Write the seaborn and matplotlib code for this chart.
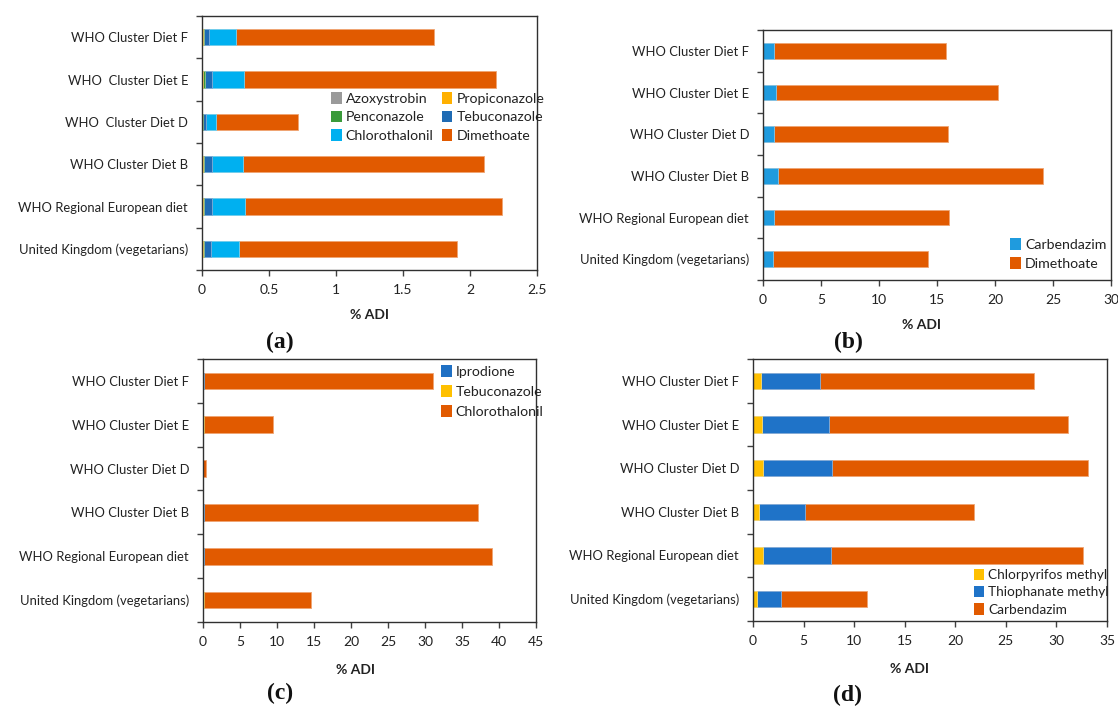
import numpy as np
import matplotlib
matplotlib.use('Agg')
import matplotlib.pyplot as plt
from matplotlib.patches import Patch
import seaborn as sns

# diets (top to bottom)
diets_a = ['WHO Cluster Diet F', 'WHO  Cluster Diet E', 'WHO  Cluster Diet D',
           'WHO Cluster Diet B', 'WHO Regional European diet', 'United Kingdom (vegetarians)']
diets = ['WHO Cluster Diet F', 'WHO Cluster Diet E', 'WHO Cluster Diet D',
         'WHO Cluster Diet B', 'WHO Regional European diet', 'United Kingdom (vegetarians)']

# (a) % ADI per pesticide
azoxystrobin = [0.002, 0.003, 0.001, 0.003, 0.003, 0.003]
propiconazole = [0.006, 0.008, 0.002, 0.007, 0.007, 0.007]
penconazole = [0.005, 0.008, 0.002, 0.006, 0.006, 0.006]
tebuconazole_a = [0.040, 0.053, 0.022, 0.056, 0.056, 0.048]
chlorothalonil_a = [0.200, 0.244, 0.077, 0.234, 0.250, 0.213]
dimethoate_a = [1.476, 1.878, 0.614, 1.800, 1.915, 1.625]

# (b)
carbendazim_b = [0.92, 1.10, 0.92, 1.26, 0.92, 0.86]
dimethoate_b = [14.86, 19.20, 15.02, 22.92, 15.11, 13.39]

# (c)
iprodione = [0.10, 0.05, 0.02, 0.10, 0.10, 0.05]
tebuconazole_c = [0.03, 0.02, 0.01, 0.03, 0.03, 0.02]
chlorothalonil_c = [30.93, 9.45, 0.31, 36.97, 38.90, 14.47]

# (d)
chlorpyrifos = [0.77, 0.88, 0.95, 0.60, 0.95, 0.39]
thiophanate = [5.86, 6.59, 6.91, 4.59, 6.80, 2.35]
carbendazim_d = [21.16, 23.72, 25.23, 16.63, 24.92, 8.49]

W, H = 1118, 709


def px_box(left, right, top, bottom):
    return [left / W, 1 - bottom / H, (right - left) / W, (bottom - top) / H]


def lighten(c, f=0.45):
    rgb = np.array(matplotlib.colors.to_rgb(c))
    return tuple(rgb + (1 - rgb) * f)


def stacked(ax, cats, layers, colors):
    cum = np.cumsum(np.array(layers), axis=0)
    for i in range(len(layers) - 1, -1, -1):
        sns.barplot(x=cum[i], y=cats, color=colors[i], orient='h', width=0.38,
                    saturation=1, edgecolor=lighten(colors[i]), linewidth=0.6,
                    errorbar=None, ax=ax)
    ax.set_xlabel('')
    ax.set_ylabel('')


def style_axes(ax, xmax, step, fmt):
    ax.set_xlim(0, xmax)
    ax.set_ylim(5.5, -0.5)
    ticks = np.arange(0, xmax + step / 2, step)
    ax.set_xticks(ticks)
    ax.set_xticklabels([fmt(t) for t in ticks])
    ax.set_yticks(np.arange(-0.5, 6, 1), minor=True)
    ax.tick_params(axis='y', which='major', length=0, pad=10, labelsize=9.4, labelcolor='#222222')
    ax.tick_params(axis='y', which='minor', length=4, width=1, color='#404040', direction='out', left=True)
    ax.tick_params(axis='x', which='major', length=4, width=1, color='#404040', direction='out',
                   bottom=True, labelsize=10, pad=6, labelcolor='#222222')
    for s in ax.spines.values():
        s.set_visible(True)
        s.set_color('#303030')
        s.set_linewidth(1.0)


def legend(fig, ax, labels, colors, x, y, ncol=1, spacing=0.27, colsp=1.0, fs=9.8):
    handles = [Patch(facecolor=c, edgecolor='none') for c in colors]
    ax.legend(handles, labels, loc='upper left', bbox_to_anchor=(x / W, 1 - y / H),
              bbox_transform=fig.transFigure, frameon=False, ncol=ncol, borderpad=0,
              borderaxespad=0, handlelength=0.75, handleheight=0.9, handletextpad=0.3,
              labelspacing=spacing, columnspacing=colsp, fontsize=fs,
              labelcolor='#222222')


sns.set_style('white')
plt.rcParams['font.family'] = ['Lato', 'DejaVu Sans']

fig = plt.figure(figsize=(11.18, 7.09), dpi=100)

# (a)
ax_a = fig.add_axes(px_box(202, 537, 16, 270))
cols_a = ['#9a9a9a', '#ffb000', '#3a9a3a', '#1f6bb4', '#00b0f0', '#e15a00']
names_a = ['Azoxystrobin', 'Propiconazole', 'Penconazole', 'Tebuconazole',
           'Chlorothalonil', 'Dimethoate']
stacked(ax_a, diets_a, [azoxystrobin, propiconazole, penconazole, tebuconazole_a,
                        chlorothalonil_a, dimethoate_a], cols_a)
style_axes(ax_a, 2.5, 0.5, lambda t: '0' if t == 0 else ('%g' % t))
# legend fills rows like Excel: reorder for column-wise filling
order = [0, 2, 4, 1, 3, 5]
legend(fig, ax_a, [names_a[i] for i in order], [cols_a[i] for i in order], 331, 92,
       ncol=2, spacing=0.42, colsp=0.55, fs=10.2)

# (b)
ax_b = fig.add_axes(px_box(763, 1111, 30, 280))
cols_b = ['#1f9bde', '#e15a00']
stacked(ax_b, diets, [carbendazim_b, dimethoate_b], cols_b)
style_axes(ax_b, 30, 5, lambda t: '%d' % t)
legend(fig, ax_b, ['Carbendazim', 'Dimethoate'], cols_b, 1010, 238, spacing=0.45, fs=10.2)

# (c)
ax_c = fig.add_axes(px_box(203, 536, 359, 622))
cols_c = ['#1f70c4', '#ffc000', '#e15a00']
stacked(ax_c, diets, [iprodione, tebuconazole_c, chlorothalonil_c], cols_c)
style_axes(ax_c, 45, 5, lambda t: '%d' % t)
legend(fig, ax_c, ['Iprodione', 'Tebuconazole', 'Chlorothalonil'], cols_c, 441, 365,
       spacing=0.52, fs=10.2)

# (d)
ax_d = fig.add_axes(px_box(753, 1107, 359, 621))
cols_d = ['#ffc000', '#1f73c8', '#e15a00']
stacked(ax_d, diets, [chlorpyrifos, thiophanate, carbendazim_d], cols_d)
style_axes(ax_d, 35, 5, lambda t: '%d' % t)
legend(fig, ax_d, ['Chlorpyrifos methyl', 'Thiophanate methyl', 'Carbendazim'], cols_d,
       974, 569, spacing=0.35, fs=9.8)

for xp, yp in [(369, 315), (922, 325), (355, 670), (910, 669)]:
    fig.text(xp / W, 1 - yp / H, '% ADI', ha='center', va='center', fontsize=10,
             fontweight='bold', color='#222222')

for lab, xp, yp in [('(a)', 280, 342), ('(b)', 848, 342), ('(c)', 280, 693), ('(d)', 848, 695)]:
    fig.text(xp / W, 1 - yp / H, lab, ha='center', va='center', fontsize=17,
             fontweight='bold', family='Liberation Serif', color='#111111')

fig.savefig('out.png', dpi=100)
